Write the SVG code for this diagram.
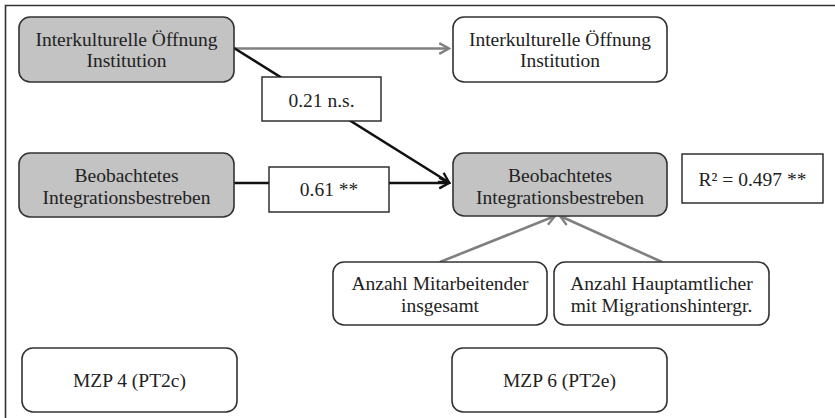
<svg xmlns="http://www.w3.org/2000/svg" width="835" height="418" viewBox="0 0 835 418" font-family="'Liberation Serif', 'Times New Roman', Times, serif">
<defs>
<style>
.node{stroke:#333;stroke-width:1.6}
.g{fill:#c3c3c3}
.w{fill:#fff}
.lbl{fill:#fff;stroke:#222;stroke-width:1.4}
text{font-size:19.5px;fill:#222;text-anchor:middle}
.blk{stroke:#111;stroke-width:2.6;fill:none}
.gry{stroke:#808080;stroke-width:2.6;fill:none}
</style>
<marker id="ab" viewBox="0 0 12 12" refX="10" refY="6" markerWidth="5" markerHeight="5" orient="auto" markerUnits="strokeWidth">
<path d="M1,1 L10,6 L1,11" fill="none" stroke="#111" stroke-width="2.2"/>
</marker>
<marker id="ag" viewBox="0 0 12 12" refX="10" refY="6" markerWidth="5" markerHeight="5" orient="auto" markerUnits="strokeWidth">
<path d="M1,1 L10,6 L1,11" fill="none" stroke="#808080" stroke-width="2.2"/>
</marker>
</defs>
<rect width="835" height="418" fill="#fff"/>
<g id="frame" stroke="#333" stroke-width="1.6" fill="none">
<path d="M5.5,418 V5.5 H835"/>
</g>
<g id="connectors">
<line class="gry" x1="234" y1="48.5" x2="449" y2="48.5" marker-end="url(#ag)"/>
<line class="blk" x1="234" y1="48" x2="449" y2="182.5" marker-end="url(#ab)"/>
<line class="blk" x1="234" y1="183" x2="449" y2="183" marker-end="url(#ab)"/>
<line class="gry" x1="440" y1="262" x2="555" y2="216" marker-end="url(#ag)"/>
<line class="gry" x1="662" y1="262" x2="560" y2="216" marker-end="url(#ag)"/>
</g>
<g id="n1">
<rect class="node g" x="19" y="17" width="215" height="65" rx="11"/>
<text x="126.5" y="46">Interkulturelle Öffnung</text>
<text x="126.5" y="67">Institution</text>
</g>
<g id="n2">
<rect class="node w" x="453" y="17" width="214" height="65" rx="11"/>
<text x="560" y="46">Interkulturelle Öffnung</text>
<text x="560" y="67">Institution</text>
</g>
<g id="l1">
<rect class="lbl" x="262" y="77" width="119" height="44"/>
<text x="321.5" y="107">0.21 n.s.</text>
</g>
<g id="n3">
<rect class="node g" x="19" y="153" width="215" height="64" rx="11"/>
<text x="126.5" y="182">Beobachtetes</text>
<text x="126.5" y="204">Integrationsbestreben</text>
</g>
<g id="l2">
<rect class="lbl" x="269" y="167" width="120" height="45"/>
<text x="329" y="196">0.61 **</text>
</g>
<g id="n4">
<rect class="node g" x="453" y="153" width="214" height="63" rx="11"/>
<text x="560" y="182">Beobachtetes</text>
<text x="560" y="204">Integrationsbestreben</text>
</g>
<g id="r2">
<rect class="lbl" x="682" y="154" width="141" height="49"/>
<text x="752.5" y="186">R² = 0.497 **</text>
</g>
<g id="n5">
<rect class="node w" x="333" y="262" width="214" height="63" rx="11"/>
<text x="440" y="290">Anzahl Mitarbeitender</text>
<text x="440" y="312">insgesamt</text>
</g>
<g id="n6">
<rect class="node w" x="554" y="262" width="215" height="63" rx="11"/>
<text x="661.5" y="290">Anzahl Hauptamtlicher</text>
<text x="661.5" y="312">mit Migrationshintergr.</text>
</g>
<g id="n7">
<rect class="node w" x="22" y="348" width="215" height="64" rx="11"/>
<text x="129.5" y="387">MZP 4 (PT2c)</text>
</g>
<g id="n8">
<rect class="node w" x="452" y="348" width="215" height="64" rx="11"/>
<text x="559.5" y="387">MZP 6 (PT2e)</text>
</g>
</svg>
